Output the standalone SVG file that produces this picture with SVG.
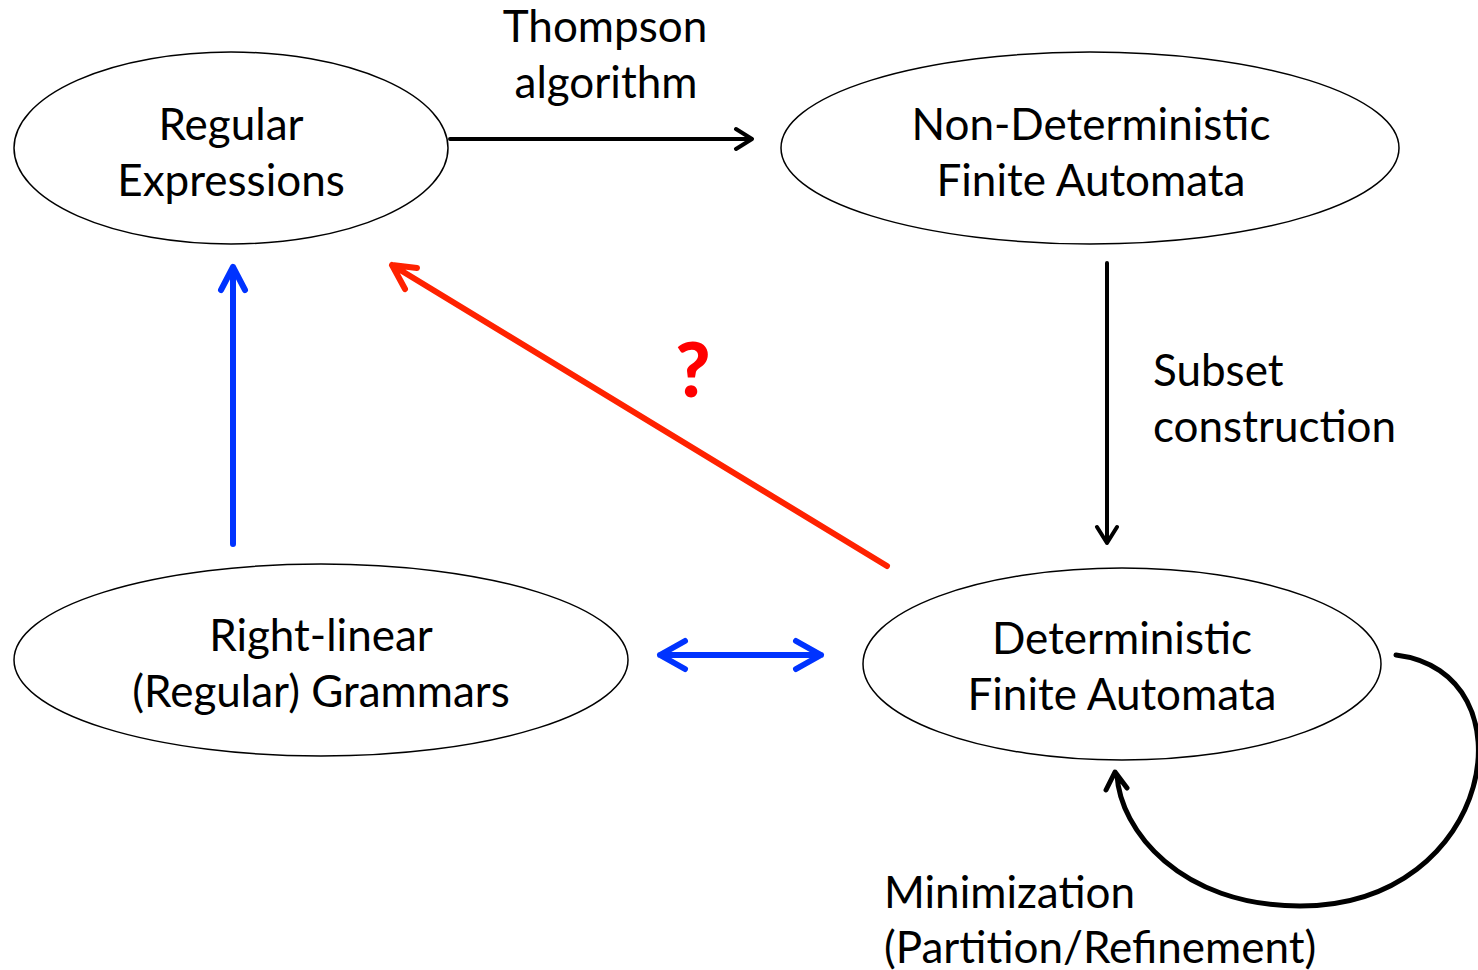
<svg xmlns="http://www.w3.org/2000/svg" width="1478" height="970" viewBox="0 0 1478 970">
<style>
.node ellipse{fill:#fff;stroke:#000;stroke-width:1.5}
text{font-family:Lato,"Open Sans",sans-serif;font-size:44px;fill:#000}
.c{text-anchor:middle}
.blk{fill:none;stroke:#000;stroke-width:4;stroke-linecap:round;stroke-linejoin:round}
.loop{stroke-width:5}
.blu{fill:none;stroke:#0033ff;stroke-width:6;stroke-linecap:round;stroke-linejoin:round}
.red{fill:none;stroke:#ff2200;stroke-width:6;stroke-linecap:round;stroke-linejoin:round}
</style>
<rect width="1478" height="970" fill="#fff"/>
<g id="re" class="node"><ellipse cx="231" cy="148" rx="217" ry="96"/><text class="c" x="231" y="140">Regular</text><text class="c" x="231" y="196">Expressions</text></g>
<g id="nfa" class="node"><ellipse cx="1090" cy="148" rx="309" ry="96"/><text class="c" x="1091" y="140">Non-Deterministic</text><text class="c" x="1091" y="196">Finite Automata</text></g>
<g id="rlg" class="node"><ellipse cx="321" cy="660" rx="307" ry="96"/><text class="c" x="321" y="651">Right-linear</text><text class="c" x="321" y="707">(Regular) Grammars</text></g>
<g id="dfa" class="node"><ellipse cx="1122" cy="664" rx="259" ry="96"/><text class="c" x="1122" y="654">Deterministic</text><text class="c" x="1122" y="710">Finite Automata</text></g>
<g id="connectors">
<path class="blk" d="M450,139 H752 M736,129 L752,139 L736,149"/>
<path class="blk" d="M1107,263 V543 M1097,527 L1107,543 L1117,527"/>
<path class="blu" d="M233,544 V267 M221,290 L233,267 L245,290"/>
<path class="red" d="M887,566 L392,265 M417,268 L392,265 L405,289"/>
<path class="blu" d="M660,655 H821 M685,641 L660,655 L685,669 M796,641 L821,655 L796,669"/>
<path class="blk loop" d="M1396,655 C1535,672 1495,906 1300,906 C1180,906 1120,830 1117,775 M1106,790 L1115,772 L1127,788"/>
</g>
<g id="labels">
<text class="c" x="605" y="42">Thompson</text><text class="c" x="606" y="98">algorithm</text>
<text x="1153" y="386">Subset</text><text x="1153" y="442">construction</text>
<text x="693" y="397" class="c" style="font-weight:900;fill:#ff0000;font-size:76px">?</text>
<text x="884" y="908">Minimization</text><text x="884" y="963">(Partition/Refinement)</text>
</g>
</svg>
